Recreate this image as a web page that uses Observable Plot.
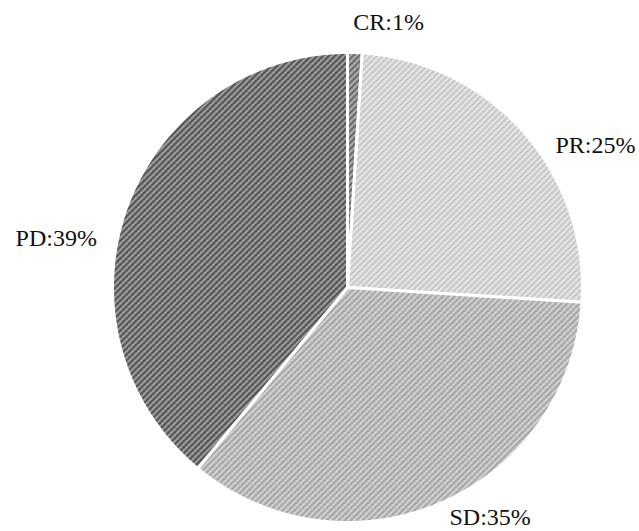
<!DOCTYPE html>
<html>
<head>
<meta charset="utf-8">
<script src="https://cdn.jsdelivr.net/npm/d3@7"></script>
<script src="https://cdn.jsdelivr.net/npm/@observablehq/plot@0.6"></script>
<style>
  html, body { margin: 0; padding: 0; background: #fff; }
  #chart svg { display: block; }
</style>
</head>
<body>
<div id="chart"></div>
<script>
// ---- data ----
const categories = ["CR", "PR", "SD", "PD"];
const percents = [1, 25, 35, 39];
const labels = ["CR:1%", "PR:25%", "SD:35%", "PD:39%"];

// ---- styles ----
const patterns = {
  CR: {bg: "#bdbdbd", fg: "#606060", dot: "#8a8a8a"},
  PR: {bg: "#ededed", fg: "#c4c4c4", dot: "#d6d6d6"},
  SD: {bg: "#dadada", fg: "#a2a2a2", dot: "#bcbcbc"},
  PD: {bg: "#acacac", fg: "#4a4a4a", dot: "#7c7c7c"}
};
const labelOffsets = {CR: [33, -7], PR: [54, 29], SD: [40, -7], PD: [-48, 38]};

// ---- geometry from data (angles clockwise from 12 o'clock) ----
const total = d3.sum(percents);
let acc = 0;
const slices = categories.map((c, i) => {
  const a0 = acc / total * 2 * Math.PI;
  acc += percents[i];
  const a1 = acc / total * 2 * Math.PI;
  return {category: c, label: labels[i], a0, a1, mid: (a0 + a1) / 2};
});

const polys = [];
for (const s of slices) {
  const pts = [{category: s.category, x: 0, y: 0}];
  const n = Math.max(4, Math.ceil((s.a1 - s.a0) / (Math.PI / 360)));
  for (let k = 0; k <= n; k++) {
    const a = s.a0 + (s.a1 - s.a0) * k / n;
    pts.push({category: s.category, x: Math.sin(a), y: Math.cos(a)});
  }
  pts.push({category: s.category, x: 0, y: 0});
  polys.push(pts);
}

const labelR = 1.1;
const labelData = slices.map(s => ({
  category: s.category, label: s.label,
  x: labelR * Math.sin(s.mid), y: labelR * Math.cos(s.mid)
}));

const marks = [];
polys.forEach((pts, i) => {
  marks.push(Plot.line(pts, {
    x: "x", y: "y",
    fill: `url(#pat-${categories[i]})`,
    stroke: "white", strokeWidth: 3, strokeLinejoin: "round",
    curve: "linear"
  }));
});
labelData.forEach(d => {
  const [dx, dy] = labelOffsets[d.category];
  marks.push(Plot.text([d], {
    x: "x", y: "y", text: "label", dx, dy,
    fontSize: 24, fill: "#111", lineAnchor: "middle", textAnchor: "middle",
    fontFamily: "Liberation Serif, Times New Roman, serif"
  }));
});

const chart = Plot.plot({
  width: 639,
  height: 531,
  margin: 0,
  style: {background: "white", fontFamily: "Liberation Serif, serif"},
  x: {domain: [-1, 1], range: [112, 582], axis: null},
  y: {domain: [-1, 1], range: [522, 52], axis: null},
  marks
});

// pattern definitions
const svg = d3.select(chart);
const defs = svg.insert("defs", ":first-child");
for (const c of categories) {
  const p = patterns[c];
  const pat = defs.append("pattern")
    .attr("id", `pat-${c}`)
    .attr("patternUnits", "userSpaceOnUse")
    .attr("width", 6).attr("height", 6);
  pat.append("rect").attr("width", 6).attr("height", 6).attr("fill", p.bg);
  pat.append("path")
    .attr("d", "M-1,5 L1,7 M0,0 L6,6 M5,-1 L7,1")
    .attr("stroke", p.dot).attr("stroke-width", 0.8);
  pat.append("path")
    .attr("d", "M-1,1 L1,-1 M0,6 L6,0 M5,7 L7,5")
    .attr("stroke", p.fg).attr("stroke-width", 2.2);
}

document.getElementById("chart").appendChild(chart);
</script>
</body>
</html>
